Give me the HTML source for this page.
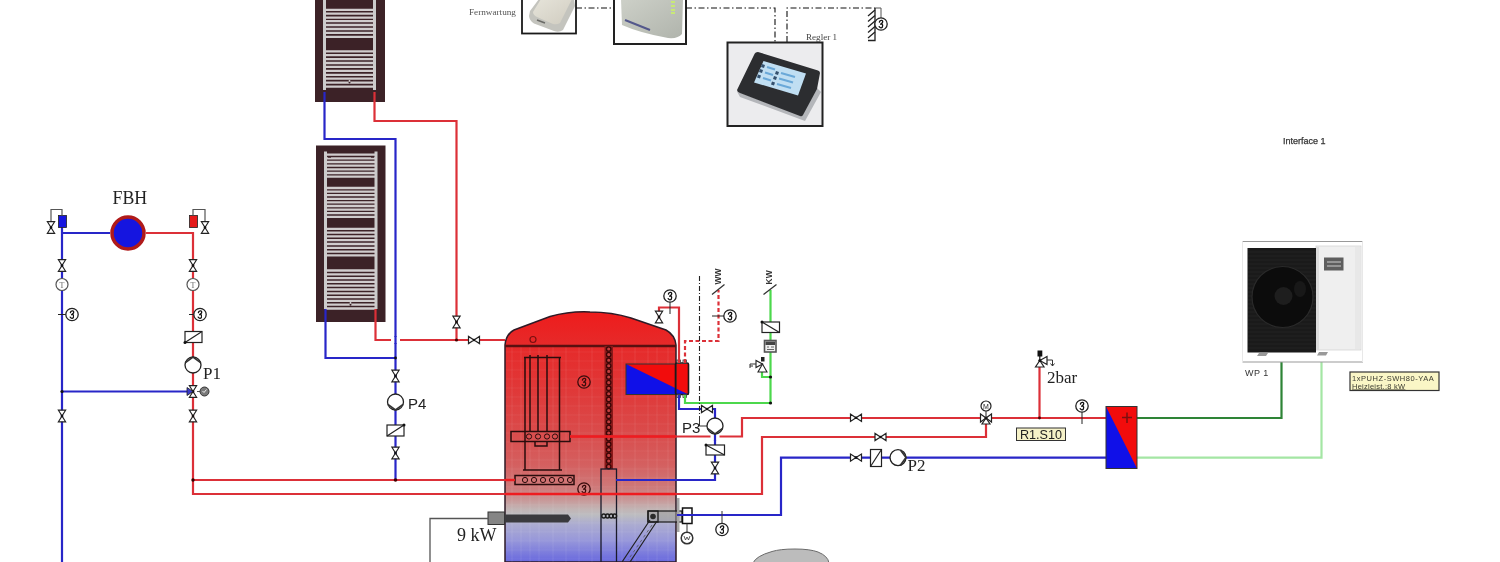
<!DOCTYPE html>
<html><head><meta charset="utf-8">
<style>
html,body{margin:0;padding:0;background:#fff;width:1500px;height:562px;overflow:hidden}
svg{display:block}
text{font-family:"Liberation Serif",serif}
svg{will-change:transform}
.s{font-family:"Liberation Sans",sans-serif}
</style></head><body>
<svg width="1500" height="562" viewBox="0 0 1500 562">
<defs>
  <linearGradient id="tg" x1="0" y1="312" x2="0" y2="562" gradientUnits="userSpaceOnUse">
<stop offset="0.0000" stop-color="#ee1c1c"/>
<stop offset="0.1360" stop-color="#e62a2a"/>
<stop offset="0.3120" stop-color="#e03838"/>
<stop offset="0.4720" stop-color="#da4a4a"/>
<stop offset="0.6120" stop-color="#d46060"/>
<stop offset="0.7040" stop-color="#ce7a7a"/>
<stop offset="0.7520" stop-color="#c89898"/>
<stop offset="0.7880" stop-color="#c2b4b4"/>
<stop offset="0.8120" stop-color="#bcbcc0"/>
<stop offset="0.8480" stop-color="#acacd0"/>
<stop offset="0.9120" stop-color="#9898da"/>
<stop offset="1.0000" stop-color="#6868de"/>
</linearGradient>
  <linearGradient id="dev2" x1="0" y1="0" x2="1" y2="1">
    <stop offset="0" stop-color="#cdd0c8"/><stop offset="1" stop-color="#b0b4ac"/>
  </linearGradient>
  <linearGradient id="dev1" x1="0" y1="0" x2="1" y2="1">
    <stop offset="0" stop-color="#e6e4da"/><stop offset="1" stop-color="#d0ccc0"/>
  </linearGradient>
  <g id="vv"><polygon points="-3.6,-5.8 3.6,-5.8 0,0 3.6,5.8 -3.6,5.8 0,0" fill="#fff" stroke="#222" stroke-width="1.2"/><circle r="1.3" fill="#111"/></g>
  <g id="vh"><polygon points="-5.5,-3.6 -5.5,3.6 0,0 5.5,-3.6 5.5,3.6 0,0" fill="#fff" stroke="#222" stroke-width="1.2"/><circle r="1.3" fill="#111"/></g>
  <path id="theta" d="M-1.6 -1.8 Q-1.2 -4 0.8 -3.6 Q2.2 -3.2 1.4 -1.2 Q0.6 0.4 -0.4 0.2 M0.4 -0.8 Q2.4 1 1.4 3 Q0 4.8 -1.8 2.6" fill="none" stroke-width="1.3" stroke-linecap="round"/>
  <g id="sens"><circle r="6.2" fill="#fff" stroke="#222" stroke-width="1.3"/><use href="#theta" stroke="#111"/></g>
  <g id="senst"><circle r="6.2" fill="none" stroke="#3a0c0c" stroke-width="1.3"/><use href="#theta" stroke="#3a0c0c"/></g>
  <g id="pump"><circle r="8" fill="#fff" stroke="#222" stroke-width="1.3"/><path d="M-7.6 -2.4 L0 -8 L7.6 -2.4" fill="none" stroke="#333" stroke-width="1.7"/></g>
</defs>

<text x="469" y="14.5" font-size="9.2" fill="#555">Fernwartung</text>
<rect x="522" y="-2" width="54" height="35.5" fill="#fff" stroke="#1a1a1a" stroke-width="1.8"/>
<path d="M539 -1 L574 -1 L575 6 L563 30 Q559 33 554 31 L534 23.5 Q529.5 21 529 16 L530 11 Z" fill="#c4c4be"/>
<path d="M541 -1 L572 -1 L560 23 Q557 25 553 24 L537 17 Q533 15 533 12 Z" fill="url(#dev1)"/>
<path d="M537 20 L545 23" stroke="#6a6a66" stroke-width="1.6"/>
<rect x="614" y="-2" width="72" height="46" fill="#fff" stroke="#222" stroke-width="2"/>
<path d="M621 -1 L683 -1 L682 34 Q678 39 668 38 Q640 33 622 25 Z" fill="url(#dev2)"/>
<path d="M625 20 L650 30" stroke="#3a3e80" stroke-width="2" opacity="0.8"/>
<g fill="#c8e878"><rect x="671" y="1" width="4" height="2"/><rect x="671" y="5" width="4" height="2"/><rect x="671" y="9" width="4" height="2"/><rect x="671" y="12" width="4" height="2"/></g>
<g stroke="#111" stroke-width="1.1" fill="none" stroke-dasharray="6,2.5,1.5,2.5">
  <path d="M576 8 L614 8"/>
  <path d="M686 8 L775 8 L775 42"/>
  <path d="M787 42 L787 8 L875 8"/>
</g>
<path d="M875 8 H881 V18" stroke="#555" stroke-width="1" fill="none"/>
<g stroke="#222" stroke-width="1.3" fill="none"><path d="M875 8 V40.5 H868"/><path d="M868 16 L875 10 M868 21.5 L875 15.5 M868 27 L875 21 M868 32.5 L875 26.5 M868 38 L875 32"/></g>
<use href="#sens" x="881" y="24"/>
<text x="806" y="39.5" font-size="9.1" fill="#444">Regler 1</text>
<rect x="727.5" y="42.5" width="95" height="83.5" fill="#ececee" stroke="#222" stroke-width="2"/>
<path d="M737 91.5 L802 116 L817 88 L821 92 L805 121 L740 97 Z" fill="#b4b6ba"/>
<path d="M758 52 Q755 52 754 55 L737 90 Q737 92 740 93 L800 116 Q802 117 803 115 L817 89 L820 73 Q820 71 818 70.5 Z" fill="#2c2d30"/>
<path d="M763.5 61 L806 73.5 L798 95.5 L754 82.5 Z" fill="#c0def2"/>
<g fill="#34506e"><path d="M762 64 l3 1 l-1 3 l-3 -1 Z M760 69 l3 1 l-1 3 l-3 -1 Z M758 74.5 l3 1 l-1 3 l-3 -1 Z M776 71 l3 1 l-1 3 l-3 -1 Z M774 76 l3 1 l-1 3 l-3 -1 Z M772 81.5 l3 1 l-1 3 l-3 -1 Z"/></g>
<g stroke="#6aa8d8" stroke-width="2.2"><path d="M767 67 L775 69.5 M765 72.5 L773 75 M763 78 L771 80.5 M781 73 L795 77 M779 78.5 L793 82.5 M777 84 L791 88"/></g>

<rect x="315" y="-2" width="70" height="104" fill="#3c2227"/>
<path d="M324.5 -2 V90 M374.5 -2 V90" stroke="#cbcbcb" stroke-width="3"/>
<path d="M324.5 9.8 H374.5 M324.5 13.7 H374.5 M324.5 17.6 H374.5 M324.5 21.1 H374.5 M324.5 25 H374.5 M324.5 29 H374.5 M324.5 32.9 H374.5 M324.5 36.8 H374.5 M324.5 51.3 H374.5 M324.5 55.2 H374.5 M324.5 59.1 H374.5 M324.5 63 H374.5 M324.5 66.9 H374.5 M324.5 70.8 H374.5 M324.5 74.8 H374.5 M324.5 78.7 H374.5 M324.5 82.6 H374.5 M324.5 86.6 H374.5" stroke="#d0cccd" stroke-width="2.3"/>
<rect x="316" y="145.5" width="69.5" height="176.5" fill="#3c2227"/>
<path d="M325.5 151.5 V309 M376 151.5 V309" stroke="#cbcbcb" stroke-width="3"/>
<path d="M325.5 154.6 H376 M325.5 158.3 H376 M325.5 162 H376 M325.5 165.7 H376 M325.5 169.4 H376 M325.5 173 H376 M325.5 176.6 H376 M325.5 188 H376 M325.5 191.6 H376 M325.5 195.2 H376 M325.5 198.8 H376 M325.5 202.4 H376 M325.5 206 H376 M325.5 209.6 H376 M325.5 213.2 H376 M325.5 216.8 H376 M325.5 228.8 H376 M325.5 232.6 H376 M325.5 236.4 H376 M325.5 240.2 H376 M325.5 244 H376 M325.5 247.8 H376 M325.5 251.6 H376 M325.5 255.4 H376 M325.5 270.5 H376 M325.5 274.3 H376 M325.5 278.1 H376 M325.5 281.9 H376 M325.5 285.7 H376 M325.5 289.5 H376 M325.5 293.3 H376 M325.5 297.1 H376 M325.5 300.9 H376 M325.5 304.7 H376 M325.5 308.5 H376" stroke="#d0cccd" stroke-width="2.3"/>
<g fill="#3c2227"><circle cx="349.5" cy="82.6" r="1"/><circle cx="350.5" cy="304.7" r="1"/><rect x="328" y="156.5" width="3" height="1.2"/><rect x="371" y="156.5" width="3" height="1.2"/></g>
<g fill="#ddd"><circle cx="349.5" cy="80.8" r="0.9"/><circle cx="350.5" cy="302.8" r="0.9"/></g>
<path d="M505 562 V345 Q506 334 514 330 L550 316.5 Q570 311 590 312 Q612 312 631 318 L666 330 Q675 335 676 345 V562 Z" fill="url(#tg)" stroke="#2e1a26" stroke-width="1.5"/>
<path d="M512 347 V562 M521 347 V562 M530 347 V562 M539 347 V562 M553 347 V562 M566 347 V562 M579 347 V562 M592 347 V562 M622 347 V562 M635 347 V562 M648 347 V562 M657 347 V562 M668 347 V562" stroke="#fff" stroke-width="1" opacity="0.08"/>
<path d="M506 352 H675 M506 361 H675 M506 370 H675 M506 379 H675 M506 388 H675 M506 397 H675 M506 406 H675 M506 415 H675 M506 424 H675 M506 433 H675 M506 442 H675 M506 451 H675 M506 460 H675 M506 469 H675 M506 478 H675 M506 487 H675 M506 496 H675 M506 505 H675 M506 514 H675 M506 523 H675 M506 532 H675 M506 541 H675 M506 550 H675 M506 559 H675" stroke="#fff" stroke-width="1" opacity="0.05"/>
<path d="M505 346 H676" stroke="#5a1010" stroke-width="2.5"/>
<circle cx="533" cy="339.5" r="3" fill="none" stroke="#7a1010" stroke-width="1.2"/>
<g stroke="#2a0c0c" stroke-width="1.5" fill="none">
  <path d="M524 357.5 H561 M525 357.5 V470 M559.5 357.5 V470 M523 470 H562"/>
  <path d="M530 355 V432 M538 355 V432 M547 355 V432 M535 441 V446 H547 V441"/>
  <rect x="511" y="431.5" width="59" height="10"/>
  <rect x="515" y="475.5" width="59" height="9"/>
</g>
<g fill="none" stroke="#2a0c0c" stroke-width="1">
  <circle cx="529" cy="436.5" r="2.6"/><circle cx="538" cy="436.5" r="2.6"/><circle cx="547" cy="436.5" r="2.6"/><circle cx="555" cy="436.5" r="2.6"/>
  <circle cx="525" cy="480" r="2.6"/><circle cx="534" cy="480" r="2.6"/><circle cx="543" cy="480" r="2.6"/><circle cx="552" cy="480" r="2.6"/><circle cx="561" cy="480" r="2.6"/><circle cx="570" cy="480" r="2.6"/>
</g>
<rect x="604.5" y="346" width="8.5" height="123" fill="#8a1a1a"/>
<g fill="#c04040" stroke="#3a0606" stroke-width="1.3"><circle cx="608.7" cy="349.0" r="2.2"/><circle cx="608.7" cy="354.6" r="2.2"/><circle cx="608.7" cy="360.2" r="2.2"/><circle cx="608.7" cy="365.8" r="2.2"/><circle cx="608.7" cy="371.4" r="2.2"/><circle cx="608.7" cy="377.0" r="2.2"/><circle cx="608.7" cy="382.6" r="2.2"/><circle cx="608.7" cy="388.2" r="2.2"/><circle cx="608.7" cy="393.8" r="2.2"/><circle cx="608.7" cy="399.4" r="2.2"/><circle cx="608.7" cy="405.0" r="2.2"/><circle cx="608.7" cy="410.6" r="2.2"/><circle cx="608.7" cy="416.2" r="2.2"/><circle cx="608.7" cy="421.8" r="2.2"/><circle cx="608.7" cy="427.4" r="2.2"/><circle cx="608.7" cy="433.0" r="2.2"/><circle cx="608.7" cy="438.6" r="2.2"/><circle cx="608.7" cy="444.2" r="2.2"/><circle cx="608.7" cy="449.8" r="2.2"/><circle cx="608.7" cy="455.4" r="2.2"/><circle cx="608.7" cy="461.0" r="2.2"/><circle cx="608.7" cy="466.6" r="2.2"/></g>
<rect x="601" y="469" width="15.5" height="95" fill="none" stroke="#1a1a2a" stroke-width="1.3"/>
<use href="#senst" x="584" y="382"/><use href="#senst" x="584" y="489"/>
<polygon points="626,364 688.5,364 688.5,394.5 626,394.5" fill="#1010e8"/>
<polygon points="626,364 688.5,364 688.5,394.5" fill="#f20c0c"/>
<rect x="676" y="363.5" width="12.5" height="31" fill="#f20c0c"/>
<path d="M676 388.4 L688.5 394.5 L676 394.5 Z" fill="#1010e8"/>
<rect x="626" y="364" width="50" height="30.5" fill="none" stroke="#333" stroke-width="1"/>
<rect x="675.5" y="363" width="13" height="31.5" rx="1.5" fill="none" stroke="#1a1a1a" stroke-width="1.6"/>
<g fill="#f0d8d0" stroke="#333" stroke-width="0.8"><rect x="677" y="360" width="3.6" height="3"/><rect x="683" y="360" width="3.6" height="3"/><rect x="677" y="394.5" width="3.6" height="3"/><rect x="683" y="394.5" width="3.6" height="3"/></g>
<rect x="488" y="512" width="16.5" height="12.5" fill="#858585" stroke="#333" stroke-width="1"/>
<path d="M504.5 514.5 H568 L571 518.5 L568 522.5 H504.5 Z" fill="#3a3a3e"/>
<path d="M488 518.5 H430 V562" stroke="#555" stroke-width="1.3" fill="none"/>
<text x="457" y="540.5" font-size="18" fill="#222">9 kW</text>
<g fill="none" stroke="#1a1a1a" stroke-width="1.4"><circle cx="603.8" cy="516" r="2"/><circle cx="607.5" cy="516" r="2"/><circle cx="611.2" cy="516" r="2"/><circle cx="614.6" cy="516" r="2"/></g>
<rect x="648" y="511" width="34" height="11" fill="#9a9a9a" fill-opacity="0.55" stroke="#1a1a1a" stroke-width="1.2"/>
<rect x="648" y="511" width="10" height="11" fill="none" stroke="#1a1a1a" stroke-width="1.3"/>
<circle cx="653" cy="516.5" r="2.8" fill="#2a2a2a"/>
<path d="M650 520 L622 562 M657 521 L630 562" stroke="#222" stroke-width="1.2"/>
<path d="M652 525 L628 560" stroke="#555" stroke-width="0.8" stroke-dasharray="3,3"/>
<rect x="677" y="498" width="2.5" height="34" fill="#a6a6a6"/>
<rect x="682.5" y="508" width="9.5" height="15.5" fill="#fff" stroke="#111" stroke-width="1.5"/>
<path d="M682.5 515.5 H692" stroke="#222" stroke-width="1"/>
<path d="M687 523.5 V532" stroke="#333" stroke-width="1"/>
<circle cx="687" cy="538" r="5.8" fill="#fff" stroke="#333" stroke-width="1.5"/>
<path d="M684 536 L685.5 540 L687 537 L688.5 540 L690 536" stroke="#333" stroke-width="0.8" fill="none"/>

<g fill="none" stroke-width="2.2">
  <path d="M324.5 92 V139 H395.5 V480" stroke="#2826c8"/>
  <path d="M374.5 92 V121 H456.5 V340" stroke="#dc3038"/>
  <path d="M325.5 309 V358 H395.5" stroke="#2826c8"/>
  <path d="M375.5 309 V340 H505" stroke="#dc3038"/>
  <path d="M62 227 V562" stroke="#2826c8"/>
  <path d="M62 233 H110" stroke="#2826c8"/>
  <path d="M146 233 H193 V494 H762 V437 H986 V424" stroke="#dc3038"/>
  <path d="M193 480 H515" stroke="#dc3038"/>
  <path d="M62 391.5 H188" stroke="#2826c8"/>
  <path d="M570 436.5 H742 V418 H1106" stroke="#dc3038"/>
  <path d="M616 480 H715 V409 H679 V395" stroke="#2826c8"/>
  <path d="M677 515 H781 V457.6 H1106" stroke="#2826c8"/>
  <path d="M1039.5 418 V364" stroke="#dc3038"/>
  <path d="M679 363 V307.5 H659 V322" stroke="#dc3038"/>
  <path d="M685 363 V341 H718.5 V290" stroke="#dc3038" stroke-dasharray="4,2.5"/>
  <path d="M685 395 V403 H770.5 V290" stroke="#4cd84c"/>
  <path d="M770.5 377 H762 V370" stroke="#4cd84c"/>
  <path d="M1137 418 H1281.5 V362" stroke="#2e8436"/>
  <path d="M1137 457.6 H1321.5 V362" stroke="#a4e6a4"/>
</g>
<path d="M570 436.5 H676 M505 494 H676" stroke="#ee1c20" stroke-width="2.6"/>
<path d="M505 480 H515" stroke="#ee1c20" stroke-width="2.4"/>
<path d="M699.5 276 V416" stroke="#222" stroke-width="1.1" fill="none" stroke-dasharray="5,2,1,2"/><path d="M699.5 416 V426 H707" stroke="#333" stroke-width="1" fill="none"/>
<rect x="391" y="337" width="9" height="6" fill="#fff"/><path d="M395.5 336 V344" stroke="#2826c8" stroke-width="2.2"/>
<rect x="710.5" y="433" width="9" height="7" fill="#fff"/><path d="M715 432 V441" stroke="#2826c8" stroke-width="2.2"/>
<circle cx="395.5" cy="480" r="1.8" fill="#400"/><circle cx="193" cy="480" r="1.7" fill="#300"/>
<circle cx="62" cy="391.5" r="1.6" fill="#111"/>
<circle cx="456.5" cy="340" r="1.6" fill="#400"/>
<circle cx="395.5" cy="358" r="1.4" fill="#111"/>
<circle cx="1039.5" cy="418" r="1.4" fill="#400"/>

<text x="112.5" y="203.5" font-size="17.8" fill="#222">FBH</text>
<circle cx="128" cy="233" r="16" fill="#1515e0" stroke="#b01a1a" stroke-width="3.5"/>
<rect x="58.5" y="215.5" width="8" height="12" fill="#1515e0" stroke="#222" stroke-width="0.8"/>
<rect x="189.5" y="215.5" width="8" height="12" fill="#e51a1a" stroke="#222" stroke-width="0.8"/>
<path d="M62 215.5 V209.5 H51 V221" stroke="#555" stroke-width="1.2" fill="none"/>
<path d="M193 215.5 V209.5 H205 V221" stroke="#555" stroke-width="1.2" fill="none"/>
<use href="#vv" x="51" y="227.5"/>
<use href="#vv" x="205" y="227.5"/>
<use href="#vv" x="62" y="265.5"/>
<use href="#vv" x="193" y="265.5"/>
<circle cx="62" cy="284.5" r="6" fill="#fff" stroke="#555" stroke-width="1.2"/>
<circle cx="193" cy="284.5" r="6" fill="#fff" stroke="#555" stroke-width="1.2"/>
<text x="62" y="287.5" font-size="8" text-anchor="middle" fill="#666">T</text>
<text x="193" y="287.5" font-size="8" text-anchor="middle" fill="#666">T</text>
<path d="M58 314.5 H66 M189 314.5 H194" stroke="#222" stroke-width="1"/>
<use href="#sens" x="72" y="314.5"/>
<use href="#sens" x="200" y="314.5"/>
<rect x="185" y="331.5" width="17" height="11" fill="#fff" stroke="#222" stroke-width="1.2"/>
<path d="M185 342.5 L202 331.5" stroke="#222" stroke-width="1.2"/>
<circle cx="185" cy="342.5" r="1.5" fill="#111"/>
<use href="#pump" transform="translate(193 365)"/>
<text x="203" y="378.5" font-size="17" fill="#222">P1</text>
<use href="#vv" x="193" y="391.5"/>
<polygon points="187,387.5 187,395.5 193,391.5" fill="#3a3ac8" stroke="#222" stroke-width="0.8"/>
<path d="M197 391.5 H200" stroke="#555" stroke-width="1"/>
<circle cx="204.5" cy="391.5" r="4.5" fill="#7a7a7a" stroke="#333" stroke-width="1"/>
<path d="M202.5 391 L204 392.5 L206.5 389.5" stroke="#eee" stroke-width="1" fill="none"/>
<use href="#vv" x="62" y="416"/>
<use href="#vv" x="193" y="416"/>
<use href="#vv" x="456.5" y="322"/>
<use href="#vh" x="474" y="340"/>

<use href="#vv" x="395.5" y="376"/>
<use href="#pump" transform="translate(395.5 402) rotate(180)"/>
<text class="s" x="408" y="408.5" font-size="15" fill="#222">P4</text>
<rect x="387" y="425" width="17" height="11" fill="#fff" stroke="#222" stroke-width="1.2"/>
<path d="M387 436 L404 425" stroke="#222" stroke-width="1.2"/>
<circle cx="404" cy="425" r="1.5" fill="#111"/>
<use href="#vv" x="395.5" y="453"/>

<use href="#vh" x="707" y="409"/>
<use href="#pump" transform="translate(715 426) rotate(180)"/>
<text class="s" x="682" y="433" font-size="15" fill="#222">P3</text>
<rect x="706" y="445" width="18.5" height="10" fill="#fff" stroke="#222" stroke-width="1.2"/>
<path d="M706 445 L724.5 455" stroke="#222" stroke-width="1.2"/>
<circle cx="706" cy="445" r="1.5" fill="#111"/>
<use href="#vv" x="715" y="468"/>
<use href="#vv" x="659" y="317"/>
<path d="M670 302 V314" stroke="#222" stroke-width="1"/>
<use href="#sens" x="670" y="296"/>
<path d="M712 316 H724" stroke="#222" stroke-width="1"/>
<use href="#sens" x="730" y="316"/>
<path d="M712 294.5 L724.5 284.5 M763.5 294.5 L776.5 284.5" stroke="#333" stroke-width="1.3"/>
<text class="s" x="720.5" y="284.5" font-size="8.5" fill="#333" font-weight="bold" transform="rotate(-90 720.5 284.5)">WW</text>
<text class="s" x="771.5" y="284.5" font-size="8.5" fill="#333" font-weight="bold" transform="rotate(-90 771.5 284.5)">KW</text>
<rect x="762" y="322" width="17.5" height="10.5" fill="#fff" stroke="#222" stroke-width="1.2"/>
<path d="M762 322 L779.5 332.5" stroke="#222" stroke-width="1.2"/>
<circle cx="762" cy="322" r="1.5" fill="#111"/>
<rect x="764.5" y="340.5" width="11.5" height="11.5" fill="#eee" stroke="#555" stroke-width="1.6"/>
<rect x="765.5" y="341.5" width="9.5" height="3.5" fill="#444"/>
<path d="M767 347 H769 M771 347 H774 M767 349.5 H774" stroke="#666" stroke-width="1"/>
<polygon points="758,372 767,372 762.5,364" fill="#fff" stroke="#222" stroke-width="1.1"/>
<polygon points="762.5,364 756,360.5 756,367.5" fill="#fff" stroke="#222" stroke-width="1.1"/>
<rect x="761" y="357" width="3.5" height="4.5" fill="#222"/>
<path d="M756 364 H750 V368 M750 366 H753" stroke="#333" stroke-width="1" fill="none"/>
<circle cx="770.5" cy="377" r="1.6" fill="#111"/>
<circle cx="770.5" cy="403" r="1.6" fill="#111"/>

<use href="#vh" x="856" y="417.8"/>
<use href="#vh" x="880.5" y="437"/>
<use href="#vh" x="856" y="457.6"/>
<rect x="870.5" y="449.5" width="11" height="17" fill="#fff" stroke="#222" stroke-width="1.2"/>
<path d="M870.5 466.5 L881.5 449.5" stroke="#222" stroke-width="1.2"/>
<use href="#pump" transform="translate(898 457.6) rotate(90)"/>
<text x="907.5" y="471" font-size="17" fill="#222">P2</text>
<polygon points="980.5,414 980.5,422 986,418 991.5,414 991.5,422 986,418" fill="#fff" stroke="#222" stroke-width="1.2"/>
<polygon points="982,424 990,424 986,418" fill="#fff" stroke="#222" stroke-width="1.2"/>
<circle cx="986" cy="418" r="1.5" fill="#111"/>
<path d="M986 411 V418" stroke="#222" stroke-width="1"/>
<circle cx="986" cy="406" r="5" fill="#fff" stroke="#222" stroke-width="1.2"/>
<text class="s" x="986" y="409" font-size="7" text-anchor="middle" fill="#222">M</text>
<polygon points="1035.5,367 1044,367 1039.8,360.5" fill="#fff" stroke="#222" stroke-width="1.2"/>
<polygon points="1039.8,360.5 1047,356.5 1047,364.5" fill="#fff" stroke="#222" stroke-width="1.2"/>
<rect x="1037.5" y="350.5" width="4.8" height="6" fill="#111"/>
<path d="M1039.8 356 V361" stroke="#111" stroke-width="1.2"/>
<circle cx="1039.8" cy="360.5" r="1.5" fill="#111"/>
<path d="M1047 360 H1052.5 V366 M1050.5 363.5 L1052.5 366 L1054.5 363.5" stroke="#333" stroke-width="1" fill="none"/>
<text x="1047" y="382.5" font-size="17" fill="#222">2bar</text>
<path d="M1082 412 V424" stroke="#222" stroke-width="1"/>
<use href="#sens" x="1082" y="406"/>
<rect x="1016.5" y="428" width="49" height="12.5" fill="#f6f2c8" stroke="#333" stroke-width="1"/>
<text class="s" x="1041" y="438.8" font-size="12.6" text-anchor="middle" fill="#222">R1.S10</text>
<polygon points="1106,406.5 1137,406.5 1137,468.5 1106,468.5" fill="#1010e8"/>
<polygon points="1106,406.5 1137,406.5 1137,468.5" fill="#f20c0c"/>
<rect x="1106" y="406.5" width="31" height="62" fill="none" stroke="#333" stroke-width="1"/>
<path d="M1122 417.5 H1132 M1127 412.5 V423" stroke="#7a1010" stroke-width="1.5"/>

<text class="s" x="1283" y="143.5" font-size="9" fill="#333" stroke="#333" stroke-width="0.25">Interface 1</text>
<path d="M1242.5 241.5 H1362.5 M1242.5 362 H1363" stroke="#999" stroke-width="1.2"/>
<path d="M1242.5 241.5 V362 M1362.5 241.5 V362" stroke="#e8e8e8" stroke-width="1"/>
<rect x="1316" y="246" width="45" height="104" fill="#efefef" stroke="#d4d4d4" stroke-width="0.8"/><rect x="1355" y="247" width="5.5" height="102" fill="#e8e8e8"/><rect x="1316" y="247" width="3" height="103" fill="#dcdcdc"/>
<rect x="1247.5" y="248" width="68.5" height="104.5" fill="#1a1a1a"/>
<path d="M1248 252 H1316 M1248 256 H1316 M1248 260 H1316 M1248 264 H1316 M1248 268 H1316 M1248 272 H1316 M1248 276 H1316 M1248 280 H1316 M1248 284 H1316 M1248 288 H1316 M1248 292 H1316 M1248 296 H1316 M1248 300 H1316 M1248 304 H1316 M1248 308 H1316 M1248 312 H1316 M1248 316 H1316 M1248 320 H1316 M1248 324 H1316 M1248 328 H1316 M1248 332 H1316 M1248 336 H1316 M1248 340 H1316 M1248 344 H1316 M1248 348 H1316" stroke="#222" stroke-width="1"/>
<circle cx="1282.5" cy="297" r="30.5" fill="#0c0c0c" stroke="#2a2a2a" stroke-width="1.2"/>
<circle cx="1283.5" cy="296" r="9" fill="#1e1e1e"/>
<ellipse cx="1300" cy="289" rx="6" ry="8" fill="#181818"/>
<path d="M1259 353 H1268 L1266 356 H1257 Z M1319 352 H1328 L1326 355.5 H1317 Z" fill="#999"/>
<rect x="1324" y="257.5" width="19.5" height="13" fill="#5e5e5e"/><path d="M1327 262 H1341 M1327 266 H1341" stroke="#ccc" stroke-width="1"/>
<text class="s" x="1245" y="376" font-size="9" fill="#333" letter-spacing="0.5">WP 1</text>
<rect x="1350" y="372" width="89" height="18.5" fill="#faf6c6" stroke="#333" stroke-width="1.2"/>
<text class="s" x="1352" y="380.5" font-size="7.5" fill="#3a3a30" letter-spacing="0.55">1xPUHZ-SWH80-YAA</text>
<text class="s" x="1352" y="388.5" font-size="7.5" fill="#3a3a30" letter-spacing="0.25" text-decoration="underline">Heizleist.:8 kW</text>
<path d="M753 563 Q756 556 772 551.5 Q780 549 795 549 Q810 549 818 552 Q828 556 829 563 Z" fill="#bcbcbc"/><path d="M753 563 Q756 556 772 551.5 Q780 549 795 549 Q810 549 818 552 Q828 556 829 563" fill="none" stroke="#6a6a6a" stroke-width="1"/>
<path d="M722 511 V523" stroke="#333" stroke-width="1"/>
<use href="#sens" x="722" y="529.5"/>

</svg>
</body></html>
